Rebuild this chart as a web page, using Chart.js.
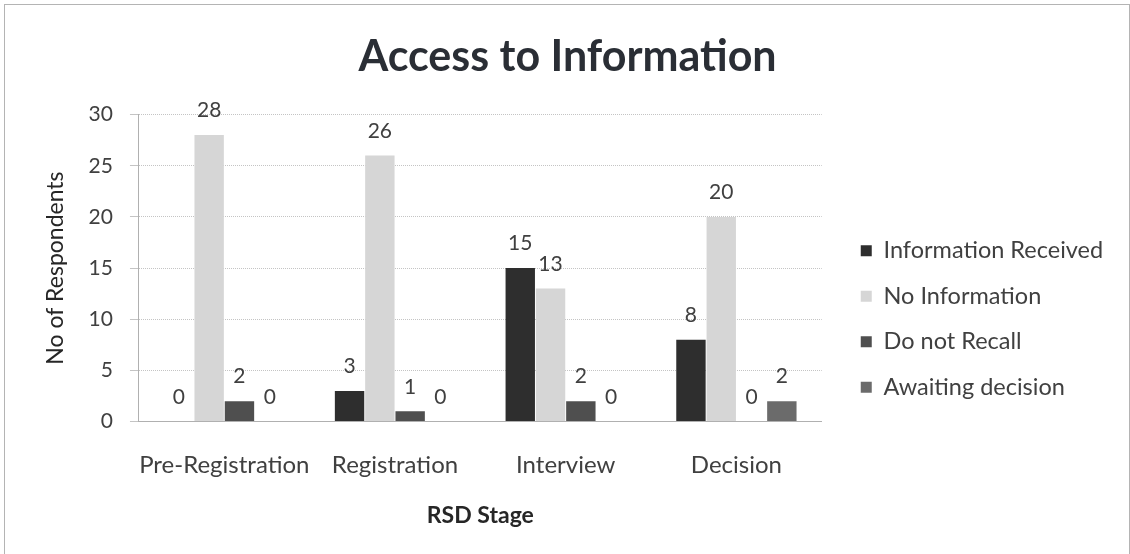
<!DOCTYPE html>
<html>
<head>
<meta charset="utf-8">
<script src="https://cdn.jsdelivr.net/npm/chart.js@4/dist/chart.umd.min.js"></script>
<style>
  body { margin: 0; background: #fff; overflow: hidden; }
  #frame {
    position: absolute; left: 4px; top: 4px; width: 1126px; height: 560px;
    border: 1px solid #b4b4b4; box-sizing: border-box;
  }
  #frame canvas { display: block; }
</style>
</head>
<body>
<div id="frame"><canvas id="myChart" width="1124" height="558"></canvas></div>
<script>
const stages = ['Pre-Registration', 'Registration', 'Interview', 'Decision'];
const infoReceived = [0, 3, 15, 8];
const noInformation = [28, 26, 13, 20];
const doNotRecall = [2, 1, 2, 0];
const awaitingDecision = [0, 0, 0, 2];
const yTicks = [0, 5, 10, 15, 20, 25, 30];

const textColor = '#404040';
const fontFamily = 'Lato, "Open Sans", sans-serif';
const legendGapX = 17;
const legendShiftY = 45;

// writes each bar's value just above it
const valueLabels = {
    id: 'valueLabels',
    afterDatasetsDraw(chart) {
        const ctx = chart.ctx;
        ctx.save();
        ctx.font = '21px ' + fontFamily;
        ctx.fillStyle = textColor;
        ctx.textAlign = 'center';
        ctx.textBaseline = 'bottom';
        chart.data.datasets.forEach((ds, i) => {
            chart.getDatasetMeta(i).data.forEach((bar, j) => {
                ctx.fillText(ds.data[j], bar.x, bar.y - 14);
            });
        });
        ctx.restore();
    }
};

// leaves some empty room between the plot and the legend
const legendGap = {
    id: 'legendGap',
    beforeLayout(chart) {
        const lg = chart.legend;
        if (lg && !lg.gapPatched) {
            const fit = lg.fit;
            lg.fit = function () {
                fit.call(this);
                this.width += legendGapX;
            };
            lg.gapPatched = true;
        }
    },
    afterLayout(chart) {
        const lg = chart.legend;
        lg.left += legendGapX;
        lg.top += legendShiftY;
        lg.bottom += legendShiftY;
    }
};

const data = {
    labels: stages,
    datasets: [
        { label: 'Information Received', data: infoReceived, backgroundColor: '#2e2e2e' },
        { label: 'No Information', data: noInformation, backgroundColor: '#d6d6d6' },
        { label: 'Do not Recall', data: doNotRecall, backgroundColor: '#4f4f4f' },
        { label: 'Awaiting decision', data: awaitingDecision, backgroundColor: '#6b6b6b' }
    ]
};

const config = {
    type: 'bar',
    data: data,
    options: {
        responsive: false,
        animation: false,
        categoryPercentage: 0.71,
        barPercentage: 0.97,
        layout: { padding: { left: 20, right: 19, top: 10, bottom: 30 } },
        plugins: {
            title: {
                display: true,
                text: 'Access to Information',
                color: '#2a2e35',
                font: { family: fontFamily, size: 43, weight: 'bold' },
                padding: { top: 16, bottom: 32 }
            },
            legend: {
                position: 'right',
                labels: {
                    color: textColor,
                    boxWidth: 11,
                    boxHeight: 11,
                    padding: 22,
                    font: { family: fontFamily, size: 23.5 }
                }
            },
            tooltip: { enabled: false }
        },
        scales: {
            x: {
                grid: { display: false },
                border: { color: '#b0b0b0' },
                ticks: {
                    color: textColor,
                    padding: 21,
                    autoSkip: false,
                    maxRotation: 0,
                    font: { family: fontFamily, size: 24 }
                },
                title: {
                    display: true,
                    text: 'RSD Stage',
                    color: '#262626',
                    padding: { top: 1, bottom: 4 },
                    font: { family: fontFamily, size: 23, weight: 'bold' }
                }
            },
            y: {
                min: 0,
                max: 30,
                afterBuildTicks(axis) { axis.ticks = yTicks.map(v => ({ value: v })); },
                grid: { color: '#c4c4c4', tickLength: 9 },
                border: { color: '#b0b0b0', dash: [1, 1] },
                ticks: { color: textColor, padding: 17, font: { family: fontFamily, size: 21 } },
                title: {
                    display: true,
                    text: 'No of Respondents',
                    color: '#262626',
                    padding: { top: 17, bottom: 2 },
                    font: { family: fontFamily, size: 23 }
                }
            }
        }
    },
    plugins: [valueLabels, legendGap]
};

new Chart(document.getElementById('myChart').getContext('2d'), config);
</script>
</body>
</html>
